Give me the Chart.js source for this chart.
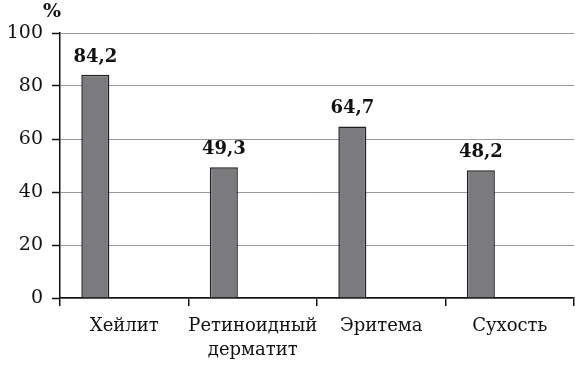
<!DOCTYPE html>
<html>
<head>
<meta charset="utf-8">
<script src="https://cdn.jsdelivr.net/npm/chart.js@4/dist/chart.umd.min.js"></script>
<style>
  html, body { margin: 0; padding: 0; background: #fff; }
  #wrap { width: 575px; height: 365px; position: relative; }
</style>
</head>
<body>
<div id="wrap"><canvas id="chart"></canvas></div>
<script>
const categories = ['Хейлит', ['Ретиноидный', 'дерматит'], 'Эритема', 'Сухость'];
const values = [84.2, 49.3, 64.7, 48.2];
const yTicks = [0, 20, 40, 60, 80, 100];
const unitLabel = '%';

const serif = '"DejaVu Serif", serif';

// value captions above each bar, with a decimal comma
const valueLabels = {
  id: 'valueLabels',
  afterDatasetsDraw(chart) {
    const ctx = chart.ctx;
    const meta = chart.getDatasetMeta(0);
    ctx.save();
    ctx.font = 'bold 18px ' + serif;
    ctx.fillStyle = '#111';
    ctx.textAlign = 'center';
    ctx.textBaseline = 'bottom';
    meta.data.forEach((bar, i) => {
      ctx.fillText(values[i].toFixed(1).replace('.', ','), bar.x, bar.y - 9);
    });
    // unit sign over the value axis
    ctx.font = 'bold 19px ' + serif;
    ctx.fillText(unitLabel, chart.scales.y.right - 8, 22);
    ctx.restore();
  }
};

new Chart(document.getElementById('chart'), {
  type: 'bar',
  data: {
    labels: categories,
    datasets: [
      { data: values, backgroundColor: '#7b7b7e', borderColor: '#1e1e1e', borderWidth: 1.5 },
      { data: values.map(() => null) } // empty right-hand slot keeps bars to the left
    ]
  },
  options: {
    responsive: true,
    maintainAspectRatio: false,
    animation: false,
    layout: { padding: { top: 33, right: 1, left: 0, bottom: 0 } },
    categoryPercentage: 0.9,
    barPercentage: 0.485,
    plugins: { legend: { display: false }, tooltip: { enabled: false } },
    scales: {
      x: {
        grid: { offset: true, drawOnChartArea: false, drawTicks: true, tickLength: 8, color: '#111', lineWidth: 1.5 },
        border: { color: '#111', width: 1.5 },
        ticks: { color: '#111', font: { family: serif, size: 18, lineHeight: 1.35 }, padding: 8, maxRotation: 0, autoSkip: false },
        afterFit(scale) { scale.height = 67; }
      },
      y: {
        min: 0, max: 100,
        afterBuildTicks(scale) { scale.ticks = yTicks.map(v => ({ value: v })); },
        grid: { color: '#9a9a9a', lineWidth: 1, tickLength: 8, tickColor: '#111', tickWidth: 1.5 },
        border: { color: '#111', width: 1.5 },
        ticks: { color: '#111', font: { family: serif, size: 19 }, padding: 9 },
        afterFit(scale) { scale.width = 60; }
      }
    }
  },
  plugins: [valueLabels]
});
</script>
</body>
</html>
